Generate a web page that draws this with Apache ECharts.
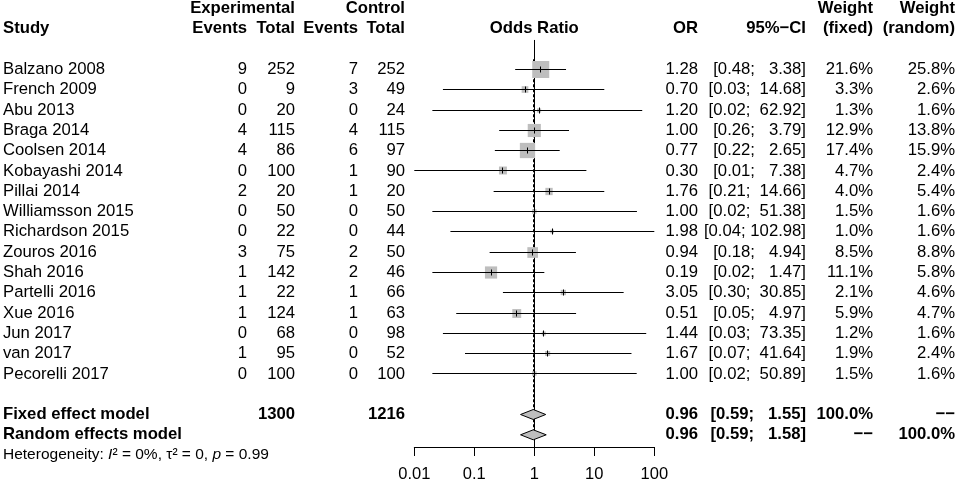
<!DOCTYPE html>
<html>
<head>
<meta charset="utf-8">
<title>Forest plot</title>
<script src="https://cdn.jsdelivr.net/npm/echarts@6/dist/echarts.min.js"></script>
<style>
    html, body { margin: 0; padding: 0; background: #fff; overflow: hidden; }
    #main { width: 957px; height: 484px; }
</style>
</head>
<body>
<div id="main"></div>
<script>
    // data
    const studies = ['Balzano 2008', 'French 2009', 'Abu 2013', 'Braga 2014', 'Coolsen 2014', 'Kobayashi 2014',
        'Pillai 2014', 'Williamsson 2015', 'Richardson 2015', 'Zouros 2016', 'Shah 2016', 'Partelli 2016',
        'Xue 2016', 'Jun 2017', 'van 2017', 'Pecorelli 2017'];
    const expEvents = [9, 0, 0, 4, 4, 0, 2, 0, 0, 3, 1, 1, 1, 0, 1, 0];
    const expTotal = [252, 9, 20, 115, 86, 100, 20, 50, 22, 75, 142, 22, 124, 68, 95, 100];
    const ctrlEvents = [7, 3, 0, 4, 6, 1, 1, 0, 0, 2, 2, 1, 1, 0, 0, 0];
    const ctrlTotal = [252, 49, 24, 115, 97, 90, 20, 50, 44, 50, 46, 66, 63, 98, 52, 100];
    const oddsRatio = [1.28, 0.70, 1.20, 1.00, 0.77, 0.30, 1.76, 1.00, 1.98, 0.94, 0.19, 3.05, 0.51, 1.44, 1.67, 1.00];
    const ciLow = [0.48, 0.03, 0.02, 0.26, 0.22, 0.01, 0.21, 0.02, 0.04, 0.18, 0.02, 0.30, 0.05, 0.03, 0.07, 0.02];
    const ciHigh = [3.38, 14.68, 62.92, 3.79, 2.65, 7.38, 14.66, 51.38, 102.98, 4.94, 1.47, 30.85, 4.97, 73.35, 41.64, 50.89];
    const weightFixed = [21.6, 3.3, 1.3, 12.9, 17.4, 4.7, 4.0, 1.5, 1.0, 8.5, 11.1, 2.1, 5.9, 1.2, 1.9, 1.5];
    const weightRandom = [25.8, 2.6, 1.6, 13.8, 15.9, 2.4, 5.4, 1.6, 1.6, 8.8, 5.8, 4.6, 4.7, 1.6, 2.4, 1.6];

    const pooledNames = ['Fixed effect model', 'Random effects model'];
    const pooledOR = [0.96, 0.96];
    const pooledLow = [0.59, 0.59];
    const pooledHigh = [1.55, 1.58];
    const pooledWFixed = ['100.0%', '\u2212\u2212'];
    const pooledWRandom = ['\u2212\u2212', '100.0%'];
    const pooledExpTotal = ['1300', ''];
    const pooledCtrlTotal = ['1216', ''];
    const nullEffect = 1;

    // layout
    const ROW0 = 8.5, ROW_H = 20.3;
    const STUDY_ROW = 3, POOLED_ROW = 20, HET_ROW = 22;
    const PLOT_LEFT = 414.3, PLOT_W = 240, AXIS_Y = 447;
    const FONT = "'Liberation Sans', Arial, Helvetica, sans-serif";
    const FS = 16.7;
    const col = { study: 3, expEv: 247, expTot: 295, ctlEv: 358, ctlTot: 405, or: 698, ci: 806, wf: 873, wr: 955 };

    const fmtCI = (lo, hi) => {
        const h = hi.toFixed(2);
        return '[' + lo.toFixed(2) + '; ' + h.padStart(6, ' ') + ']';
    };
    const snap = v => Math.round(v - 0.5) + 0.5;

    // table cells
    const cells = [];
    const cell = (x, row, text, align, bold, extra) =>
        cells.push(Object.assign({ x, row, text: String(text), align: align || 'right', bold: !!bold }, extra || {}));

    cell(col.expTot, 0, 'Experimental', 'right', true);
    cell(col.ctlTot, 0, 'Control', 'right', true);
    cell(col.wf, 0, 'Weight', 'right', true);
    cell(col.wr, 0, 'Weight', 'right', true);
    cell(col.study, 1, 'Study', 'left', true);
    cell(col.expEv, 1, 'Events', 'right', true);
    cell(col.expTot, 1, 'Total', 'right', true);
    cell(col.ctlEv, 1, 'Events', 'right', true);
    cell(col.ctlTot, 1, 'Total', 'right', true);
    cell(PLOT_LEFT + PLOT_W / 2, 1, 'Odds Ratio', 'center', true);
    cell(col.or, 1, 'OR', 'right', true);
    cell(col.ci, 1, '95%\u2212CI', 'right', true);
    cell(col.wf, 1, '(fixed)', 'right', true);
    cell(col.wr, 1, '(random)', 'right', true);

    studies.forEach((s, i) => {
        const r = STUDY_ROW + i;
        cell(col.study, r, s, 'left');
        cell(col.expEv, r, expEvents[i]);
        cell(col.expTot, r, expTotal[i]);
        cell(col.ctlEv, r, ctrlEvents[i]);
        cell(col.ctlTot, r, ctrlTotal[i]);
        cell(col.or, r, oddsRatio[i].toFixed(2));
        cell(col.ci, r, fmtCI(ciLow[i], ciHigh[i]));
        cell(col.wf, r, weightFixed[i].toFixed(1) + '%');
        cell(col.wr, r, weightRandom[i].toFixed(1) + '%');
    });

    pooledNames.forEach((s, i) => {
        const r = POOLED_ROW + i;
        cell(col.study, r, s, 'left', true);
        cell(col.expTot, r, pooledExpTotal[i], 'right', true);
        cell(col.ctlTot, r, pooledCtrlTotal[i], 'right', true);
        cell(col.or, r, pooledOR[i].toFixed(2), 'right', true);
        cell(col.ci, r, fmtCI(pooledLow[i], pooledHigh[i]), 'right', true);
        cell(col.wf, r, pooledWFixed[i], 'right', true);
        cell(col.wr, r, pooledWRandom[i], 'right', true);
    });

    cell(col.study, HET_ROW, '{n|Heterogeneity: }{i|I}{n|\u00b2 = 0%, \u03c4\u00b2 = 0, }{i|p}{n| = 0.99}', 'left', false, {
        rich: {
            n: { fontSize: 15.5, fontFamily: FONT, fill: '#000' },
            i: { fontSize: 15.5, fontFamily: FONT, fontStyle: 'italic', fill: '#000' }
        }
    });

    const clampOR = v => Math.min(100, Math.max(0.01, v));

    let myChart = echarts.init(document.getElementById('main'), null, { renderer: 'canvas' });

    const option = {
        animation: false,
        backgroundColor: '#fff',
        grid: [
            { left: 0, top: 0, width: 957, height: 484 },
            { left: PLOT_LEFT, top: 0, width: PLOT_W, height: AXIS_Y }
        ],
        xAxis: [
            { gridIndex: 0, type: 'value', min: 0, max: 957, show: false },
            {
                gridIndex: 1, type: 'log', logBase: 10, min: 0.01, max: 100, splitNumber: 4,
                position: 'bottom',
                axisLine: { show: true, onZero: false, lineStyle: { color: '#000', width: 1 } },
                axisTick: { show: true, inside: false, length: 9, lineStyle: { color: '#000', width: 1 } },
                axisLabel: { color: '#000', fontSize: 16.5, fontFamily: FONT, margin: 19,
                    formatter: v => String(+v.toPrecision(2)) },
                splitLine: { show: false }
            }
        ],
        yAxis: [
            { gridIndex: 0, type: 'value', inverse: true, min: -ROW0 / ROW_H, max: (484 - ROW0) / ROW_H, show: false },
            { gridIndex: 1, type: 'value', inverse: true, min: -ROW0 / ROW_H, max: (AXIS_Y - ROW0) / ROW_H, show: false }
        ],
        series: [
            {
                // null effect line and pooled estimate line
                type: 'custom',
                xAxisIndex: 1, yAxisIndex: 1,
                silent: true,
                data: [[nullEffect, 0], [pooledOR[0], 1]],
                renderItem: (params, api) => {
                    if (params.dataIndex === 0) {
                        const a = api.coord([nullEffect, 1.55]);
                        const b = api.coord([nullEffect, (AXIS_Y - ROW0) / ROW_H]);
                        return { type: 'line', shape: { x1: snap(a[0]), y1: a[1], x2: snap(b[0]), y2: b[1] },
                            style: { stroke: '#000', lineWidth: 1 } };
                    }
                    const a = api.coord([pooledOR[0], STUDY_ROW - 0.5]);
                    const b = api.coord([pooledOR[1], POOLED_ROW + 1]);
                    return { type: 'line', shape: { x1: snap(a[0]), y1: a[1], x2: snap(b[0]), y2: b[1] },
                        style: { stroke: '#000', lineWidth: 1, lineDash: [3, 2] } };
                }
            },
            {
                // study squares + CIs
                type: 'custom',
                xAxisIndex: 1, yAxisIndex: 1,
                silent: true,
                data: studies.map((s, i) => [oddsRatio[i], STUDY_ROW + i]),
                renderItem: (params, api) => {
                    const i = params.dataIndex;
                    const r = STUDY_ROW + i;
                    const pc = api.coord([oddsRatio[i], r]);
                    const p0 = api.coord([clampOR(ciLow[i]), r]);
                    const p1 = api.coord([clampOR(ciHigh[i]), r]);
                    const sz = 3.66 * Math.sqrt(weightFixed[i]);
                    const y = snap(pc[1]);
                    return {
                        type: 'group',
                        children: [
                            { type: 'rect', shape: { x: pc[0] - sz / 2, y: y - sz / 2, width: sz, height: sz },
                                style: { fill: '#bebebe' } },
                            { type: 'line', shape: { x1: p0[0], y1: y, x2: p1[0], y2: y },
                                style: { stroke: '#000', lineWidth: 1 } },
                            { type: 'line', shape: { x1: snap(pc[0]), y1: y - 3, x2: snap(pc[0]), y2: y + 3 },
                                style: { stroke: '#000', lineWidth: 1 } }
                        ]
                    };
                }
            },
            {
                // pooled diamonds
                type: 'custom',
                xAxisIndex: 1, yAxisIndex: 1,
                silent: true,
                data: pooledOR.map((v, i) => [v, POOLED_ROW + i]),
                renderItem: (params, api) => {
                    const i = params.dataIndex;
                    const r = POOLED_ROW + i;
                    const pc = api.coord([pooledOR[i], r]);
                    const p0 = api.coord([pooledLow[i], r]);
                    const p1 = api.coord([pooledHigh[i], r]);
                    return {
                        type: 'polygon',
                        shape: { points: [[p0[0], pc[1]], [pc[0], pc[1] - 5], [p1[0], pc[1]], [pc[0], pc[1] + 5]] },
                        style: { fill: '#bebebe', stroke: '#000', lineWidth: 1 }
                    };
                }
            },
            {
                // table text
                type: 'custom',
                xAxisIndex: 0, yAxisIndex: 0,
                silent: true,
                data: cells.map(c => [c.x, c.row]),
                renderItem: (params, api) => {
                    const c = cells[params.dataIndex];
                    const p = api.coord([c.x, c.row]);
                    const style = {
                        text: c.text,
                        align: c.align,
                        verticalAlign: 'middle',
                        fontFamily: FONT,
                        fontSize: FS,
                        fontWeight: c.bold ? 'bold' : 'normal',
                        fill: '#000'
                    };
                    if (c.rich) style.rich = c.rich;
                    return { type: 'text', x: p[0], y: p[1], style: style };
                }
            }
        ]
    };

    myChart.setOption(option);
    window.addEventListener('resize', () => myChart.resize());
</script>
</body>
</html>
